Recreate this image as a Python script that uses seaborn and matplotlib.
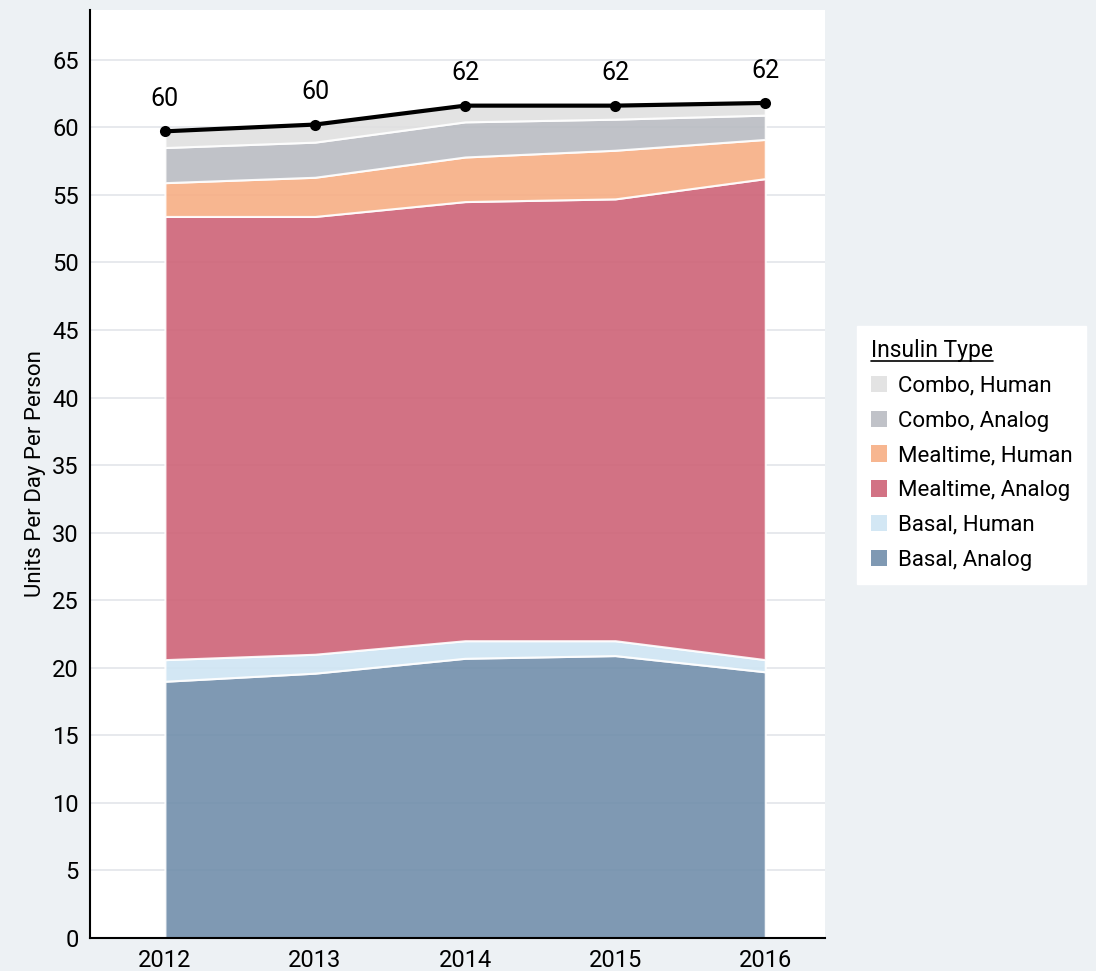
import matplotlib
matplotlib.use("Agg")
import matplotlib.pyplot as plt
import seaborn as sns
import pandas as pd
from matplotlib.patches import Patch
from matplotlib.lines import Line2D

years = [2012, 2013, 2014, 2015, 2016]
basal_analog = [19.0, 19.6, 20.7, 20.9, 19.7]
basal_human = [1.6, 1.4, 1.3, 1.1, 0.9]
mealtime_analog = [32.8, 32.4, 32.5, 32.7, 35.6]
mealtime_human = [2.5, 2.9, 3.3, 3.6, 2.9]
combo_analog = [2.6, 2.6, 2.6, 2.3, 1.8]
combo_human = [1.2, 1.3, 1.2, 1.0, 0.9]

labels = ["Basal, Analog", "Basal, Human", "Mealtime, Analog",
          "Mealtime, Human", "Combo, Analog", "Combo, Human"]
colors = ["#718eab", "#cfe5f3", "#ce6377", "#f7ae84", "#b9bcc2", "#e0e0e0"]

df = pd.DataFrame({"year": years, "Basal, Analog": basal_analog,
                   "Basal, Human": basal_human, "Mealtime, Analog": mealtime_analog,
                   "Mealtime, Human": mealtime_human, "Combo, Analog": combo_analog,
                   "Combo, Human": combo_human})
df["total"] = df[labels].sum(axis=1)

sns.set_theme(style="white")
plt.rcParams["font.family"] = ["Roboto", "DejaVu Sans"]
plt.rcParams["text.color"] = "black"
plt.rcParams["axes.labelcolor"] = "black"
plt.rcParams["xtick.color"] = "black"
plt.rcParams["ytick.color"] = "black"

fig = plt.figure(figsize=(10.96, 9.71), dpi=100, facecolor="#edf1f4")
ax = fig.add_axes([0.082, 0.034, 0.671, 0.956])
ax.set_facecolor("white")

ax.stackplot(df["year"], [df[c] for c in labels], colors=colors, alpha=0.9,
             edgecolor="white", linewidth=1.5, zorder=2)
sns.lineplot(data=df, x="year", y="total", color="black", linewidth=3,
             marker="o", markersize=8, markeredgewidth=0, ax=ax, zorder=4)
for x, t in zip(df["year"], df["total"]):
    ax.text(x, t + 1.5, f"{t:.0f}", ha="center", va="bottom", fontsize=18, zorder=5)

ax.set_xlim(2011.5, 2016.4)
ax.set_ylim(0, 68.7)
ax.set_xticks(years)
ax.set_yticks(range(0, 70, 5))
ax.tick_params(labelsize=17, length=0, pad=8)
ax.grid(axis="y", color="#e3e5ea", linewidth=1.2, zorder=0)
ax.set_axisbelow(True)
ax.set_xlabel("")
ax.set_ylabel("Units Per Day Per Person", fontsize=16)
for s in ["top", "right"]:
    ax.spines[s].set_visible(False)
for s in ["left", "bottom"]:
    ax.spines[s].set_color("black")
    ax.spines[s].set_linewidth(1.5)

handles = [Patch(facecolor=c, alpha=0.9, edgecolor="none") for c in colors][::-1]
leg = fig.legend(handles, labels[::-1], title="Insulin Type", loc="upper left",
                 bbox_to_anchor=(0.772, 0.676), fontsize=16, title_fontsize=16.5,
                 frameon=True, fancybox=False, framealpha=1, edgecolor="white",
                 handlelength=0.75, handleheight=0.75, handletextpad=0.5,
                 labelspacing=0.62, borderpad=0.6)
leg._legend_box.align = "left"

fig.canvas.draw()
bb = leg.get_title().get_window_extent().transformed(fig.transFigure.inverted())
fig.add_artist(Line2D([bb.x0, bb.x1], [bb.y0 + 0.001, bb.y0 + 0.001],
                      transform=fig.transFigure, color="black", linewidth=1.2,
                      zorder=10))

fig.savefig("out.png", dpi=100, facecolor=fig.get_facecolor())
